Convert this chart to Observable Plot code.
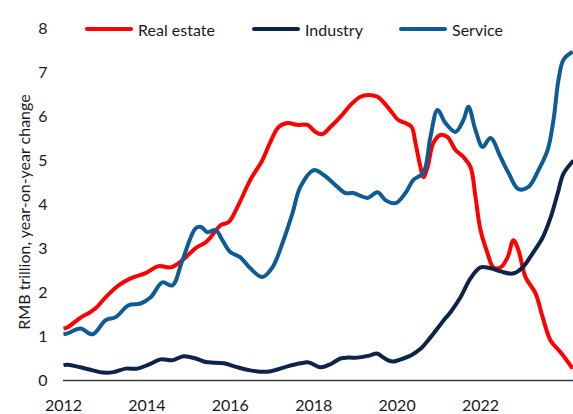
<!DOCTYPE html>
<html>
<head>
<meta charset="utf-8">
<script src="https://cdn.jsdelivr.net/npm/d3@7"></script>
<script src="https://cdn.jsdelivr.net/npm/@observablehq/plot@0.6"></script>
<style>
  html, body { margin: 0; padding: 0; background: #fff; }
  #wrap { position: relative; width: 573px; height: 414px; font-family: Lato, "Open Sans", sans-serif; color: #1a1a1a; overflow: hidden; }
  #chart { position: absolute; left: 0; top: 0; }
  .ytitle { position: absolute; left: 23px; top: 212px; transform: translate(-50%, -50%) rotate(-90deg); white-space: nowrap; font-size: 16px; }
  .leg { position: absolute; top: 19px; height: 20px; display: flex; align-items: center; font-size: 16px; white-space: nowrap; }
  .sw { display: inline-block; width: 48px; height: 4px; border-radius: 2px; margin-right: 5px; }
</style>
</head>
<body>
<div id="wrap">
  <div id="chart"></div>
  <div class="ytitle">RMB trillion, year-on-year change</div>
  <div id="legend"></div>
</div>
<script>
// ---- data ----
const seriesNames = ["Real estate", "Industry", "Service"];
const seriesColors = ["#ff0000", "#0b2447", "#0f5c95"];

const realEstateYears = [2012.00,2012.10,2012.41,2012.60,2012.77,2013.01,2013.32,2013.61,2013.97,2014.28,2014.57,2014.85,2015.17,2015.41,2015.53,2015.77,2015.96,2016.17,2016.48,2016.77,2016.96,2017.16,2017.37,2017.61,2017.85,2018.04,2018.21,2018.40,2018.64,2018.88,2019.12,2019.31,2019.53,2019.77,2020.03,2020.20,2020.35,2020.44,2020.56,2020.63,2020.73,2020.87,2021.04,2021.21,2021.40,2021.59,2021.76,2021.88,2022.00,2022.17,2022.31,2022.48,2022.65,2022.79,2022.91,2023.08,2023.32,2023.49,2023.68,2023.92,2024.21];
const realEstateValues = [1.18,1.21,1.43,1.53,1.64,1.89,2.16,2.32,2.44,2.60,2.57,2.73,3.01,3.14,3.26,3.53,3.60,3.94,4.56,5.01,5.42,5.76,5.85,5.81,5.81,5.65,5.60,5.76,5.99,6.26,6.45,6.49,6.45,6.22,5.92,5.85,5.76,5.40,4.85,4.62,4.85,5.40,5.58,5.53,5.24,5.08,4.85,4.17,3.42,2.89,2.57,2.57,2.80,3.19,2.96,2.35,1.98,1.44,0.91,0.64,0.27];

const industryYears = [2012.00,2012.10,2012.41,2012.70,2012.94,2013.20,2013.49,2013.77,2014.04,2014.33,2014.61,2014.88,2015.17,2015.41,2015.53,2015.84,2016.17,2016.48,2016.89,2017.13,2017.37,2017.68,2017.88,2018.16,2018.40,2018.64,2018.83,2019.05,2019.30,2019.53,2019.67,2019.89,2020.15,2020.35,2020.56,2020.80,2021.11,2021.28,2021.52,2021.76,2022.00,2022.24,2022.48,2022.77,2023.01,2023.25,2023.49,2023.68,2023.85,2023.99,2024.23];
const industryValues = [0.35,0.36,0.30,0.23,0.18,0.19,0.27,0.27,0.36,0.48,0.46,0.55,0.50,0.42,0.41,0.39,0.30,0.23,0.20,0.25,0.32,0.39,0.41,0.30,0.37,0.50,0.52,0.52,0.56,0.61,0.52,0.43,0.50,0.58,0.72,0.98,1.36,1.55,1.89,2.32,2.57,2.55,2.48,2.43,2.57,2.89,3.25,3.70,4.25,4.70,5.00];

const serviceYears = [2012.00,2012.10,2012.41,2012.70,2013.01,2013.25,2013.56,2013.85,2014.09,2014.37,2014.61,2014.85,2015.17,2015.30,2015.45,2015.65,2015.81,2016.00,2016.24,2016.48,2016.77,2017.01,2017.25,2017.49,2017.68,2018.00,2018.24,2018.57,2018.76,2018.95,2019.29,2019.53,2019.72,2019.96,2020.20,2020.39,2020.63,2020.80,2020.97,2021.16,2021.40,2021.59,2021.71,2021.88,2022.05,2022.24,2022.48,2022.67,2022.91,2023.15,2023.39,2023.61,2023.75,2023.87,2023.99,2024.21];
const serviceValues = [1.05,1.07,1.18,1.05,1.37,1.44,1.71,1.75,1.89,2.23,2.16,2.73,3.46,3.49,3.37,3.42,3.19,2.92,2.80,2.55,2.35,2.57,3.12,3.80,4.40,4.78,4.67,4.40,4.26,4.26,4.15,4.28,4.10,4.03,4.26,4.56,4.72,5.54,6.15,5.85,5.65,5.92,6.22,5.69,5.31,5.51,5.08,4.72,4.35,4.40,4.78,5.24,5.92,6.83,7.29,7.47];

const xTicks = [2012, 2014, 2016, 2018, 2020, 2022];
const yTicks = [0, 1, 2, 3, 4, 5, 6, 7, 8];

// ---- build table ----
const rows = [];
[[realEstateYears, realEstateValues], [industryYears, industryValues], [serviceYears, serviceValues]]
  .forEach(([ys, vs], i) => ys.forEach((yr, j) => rows.push({series: seriesNames[i], year: yr, value: vs[j]})));

const chart = Plot.plot({
  width: 573,
  height: 414,
  marginLeft: 63,
  marginRight: 0,
  marginTop: 28,
  marginBottom: 34,
  style: {fontFamily: "Lato, 'Open Sans', sans-serif", fontSize: "16px", color: "#1a1a1a", background: "transparent", overflow: "visible"},
  x: {domain: [2012, 2024.23], ticks: xTicks, tickFormat: d => String(d), tickSize: 0, tickPadding: 19, label: null},
  y: {domain: [0, 8], ticks: yTicks, tickSize: 0, tickPadding: 16, label: null},
  color: {domain: seriesNames, range: seriesColors},
  marks: [
    Plot.ruleY([0], {stroke: "#3a3a3a", strokeWidth: 1.5}),
    Plot.line(rows, {x: "year", y: "value", z: "series", stroke: "series", strokeWidth: 4, curve: "catmull-rom", strokeLinejoin: "round", strokeLinecap: "butt"})
  ]
});
document.getElementById("chart").appendChild(chart);

// ---- legend ----
const legendLeft = [85, 252, 399];
const legend = document.getElementById("legend");
seriesNames.forEach((name, i) => {
  const item = document.createElement("div");
  item.className = "leg";
  item.style.left = legendLeft[i] + "px";
  const sw = document.createElement("span");
  sw.className = "sw";
  sw.style.background = seriesColors[i];
  const t = document.createElement("span");
  t.textContent = name;
  item.appendChild(sw);
  item.appendChild(t);
  legend.appendChild(item);
});
</script>
</body>
</html>
